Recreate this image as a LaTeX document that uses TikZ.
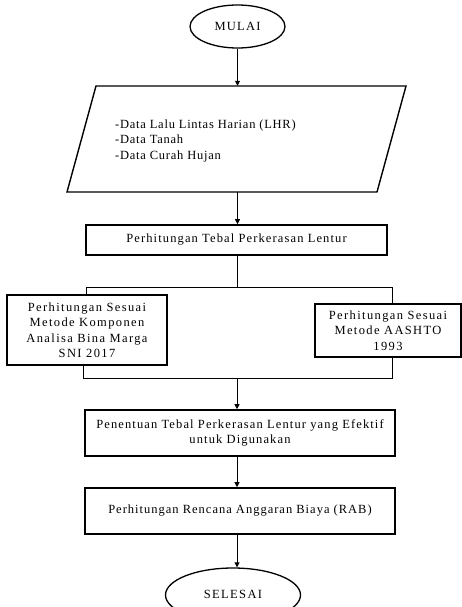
\documentclass[tikz,border=0pt]{standalone}
\usepackage{fontspec}
\setmainfont{Liberation Serif}
\usetikzlibrary{shapes.geometric,arrows.meta}
\begin{document}
\begin{tikzpicture}[x=1pt,y=-1pt,
  txt/.style={font={\fontsize{12.5}{15.5}\selectfont\addfontfeatures{LetterSpace=#1}}, text=black},
  boxstyle/.style={draw, line width=1.6pt, rectangle, align=center, inner sep=2pt},
  termstyle/.style={draw, line width=1.3pt, ellipse, inner sep=0pt},
  conn/.style={line width=0.8pt},
  arr/.style={line width=0.8pt, -{Triangle[width=5pt,length=5pt]}}]
\useasboundingbox (0,0) rectangle (462,607);
% terminals
\node[termstyle, minimum width=95, minimum height=43, txt=10] (start) at (237.5,26.5) {MULAI};
\node[termstyle, minimum width=135, minimum height=54, txt=11] (finish) at (233,595) {\raisebox{1pt}{SELESAI}};
% data (parallelogram)
\node[minimum width=310, minimum height=106, inner sep=0pt] (data) at (236.5,139) {};
\draw[line width=1.4pt] (96,86) -- (406,86) -- (377,192) -- (67,192) -- cycle;
\node[anchor=west, align=left, inner sep=0pt, txt=6] (datatext) at (115,140.5)
  {-Data Lalu Lintas Harian (LHR)\\-Data Tanah\\-Data Curah Hujan};
% boxes
\node[boxstyle, minimum width=301, minimum height=30, txt=9] (calc) at (236.5,240)
  {\raisebox{4pt}{Perhitungan Tebal Perkerasan Lentur}};
\node[boxstyle, minimum width=160, minimum height=70, txt=11] (left) at (87,330)
  {Perhitungan Sesuai\\Metode Komponen\\Analisa Bina Marga\\SNI 2017};
\node[boxstyle, minimum width=146, minimum height=53, txt=11] (right) at (388,330.5)
  {Perhitungan Sesuai\\Metode AASHTO\\1993};
\node[boxstyle, minimum width=310, minimum height=46, txt=9] (decide) at (240,433)
  {Penentuan Tebal Perkerasan Lentur yang Efektif\\untuk Digunakan};
\node[boxstyle, minimum width=310, minimum height=46, txt=8] (rab) at (240,511)
  {Perhitungan Rencana Anggaran Biaya (RAB)};
% connectors
\coordinate (split) at (237,287);
\coordinate (merge) at (237,378);
\draw[arr] (start) -- (data.north -| start);
\draw[arr] (data.south -| start) -- (calc.north -| start);
\draw[conn] (calc.south -| split) -- (split);
\draw[conn] ([xshift=-1pt]left.north) |- (split);
\draw[conn] (split) -| ([xshift=4pt]right.north);
\draw[conn] ([xshift=-4pt]left.south) |- (merge);
\draw[conn] (merge) -| ([xshift=4pt]right.south);
\draw[arr] (merge) -- (decide.north -| merge);
\draw[arr] (decide.south -| merge) -- (rab.north -| merge);
\draw[arr] (rab.south -| merge) -- (finish.north -| merge);
\end{tikzpicture}
\end{document}
